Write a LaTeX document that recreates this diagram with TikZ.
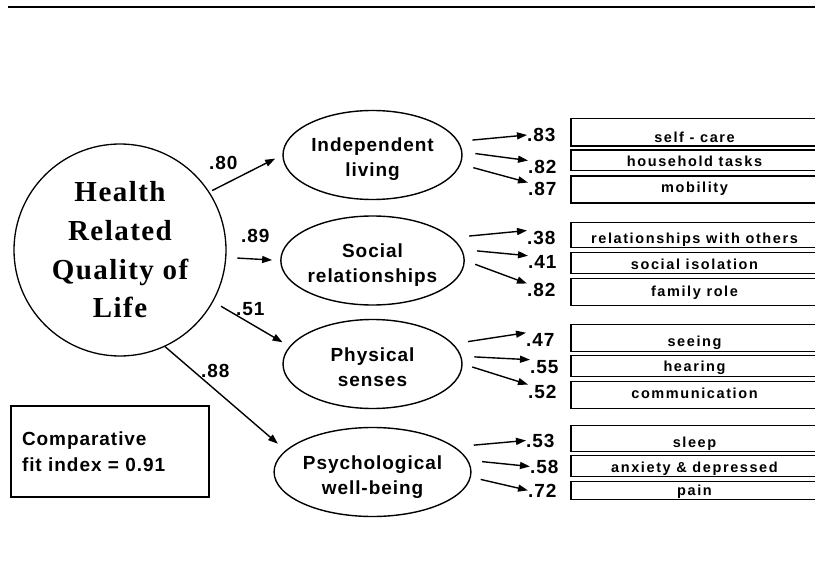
\documentclass[tikz,border=0pt]{standalone}
\usepackage{fontspec}
\setmainfont{Liberation Sans}
\newfontfamily\labelfont[LetterSpace=5]{Liberation Sans}
\newfontfamily\itemfont[LetterSpace=11]{Liberation Sans}
\newfontfamily\titlefont[LetterSpace=5]{Liberation Serif}
\usetikzlibrary{shapes.geometric,arrows.meta}

\begin{document}
\begin{tikzpicture}[x=1pt,y=1pt]
\tikzstyle{every node}+=[inner sep=0pt]
\tikzstyle{factor}=[draw, ellipse, line width=1.4pt, minimum width=179pt, minimum height=89pt, align=center, text height=44pt, text depth=0pt, font=\labelfont\bfseries\fontsize{19}{25}\selectfont]
\tikzstyle{item}=[draw, rectangle, line width=1.3pt, anchor=north, minimum width=247pt, text depth=4pt, font=\itemfont\bfseries\fontsize{14.5}{16}\selectfont]
\tikzstyle{loading}=[anchor=base west, font=\labelfont\bfseries\fontsize{19}{20}\selectfont]
\tikzstyle{link}=[line width=1.4pt, -{Triangle[length=10pt,width=7pt]}]
\useasboundingbox (0,0) rectangle (815,-583);
\draw [line width=2pt] (8,-7.5) -- (815,-7.5);
% latent factors
\node [draw, circle, line width=1.3pt, minimum size=212pt, align=center, font=\titlefont\bfseries\fontsize{29}{38.7}\selectfont] (hrql) at (120,-250) {Health\\Related\\Quality of\\Life};
\node [factor] (indep) at (372.5,-155) {Independent\\living};
\node [factor] (social) at (372.5,-260.5) {Social\\relationships};
\node [factor] (physical) at (372.5,-364) {Physical\\senses};
\node [factor] (psych) at (372.5,-472) {Psychological\\well-being};
% items
\node [item, text height=23.5pt] (selfcare) at (694.5,-118) {self - care};
\node [item, text height=16.5pt] (household) at (694.5,-149.5) {household tasks};
\node [item, text height=16.5pt, text depth=10.5pt] (mobility) at (694.5,-175.5) {mobility};
\node [item, text height=21pt] (others) at (694.5,-222) {relationships with others};
\node [item, text height=17pt] (isolation) at (694.5,-252) {social isolation};
\node [item, text height=18pt, text depth=9pt] (family) at (694.5,-278) {family role};
\node [item, text height=22pt, text depth=5pt] (seeing) at (694.5,-324) {seeing};
\node [item, text height=16pt, text depth=5pt] (hearing) at (694.5,-355) {hearing};
\node [item, text height=17pt, text depth=10pt] (communication) at (694.5,-381) {communication};
\node [item, text height=22pt] (sleep) at (694.5,-425) {sleep};
\node [item, text height=17pt] (anxiety) at (694.5,-455) {anxiety \& depressed};
\node [item, text height=14pt] (pain) at (694.5,-481) {pain};
% loadings
\node [loading] (w80) at (209,-170) {.80};
\node [loading] (w89) at (241,-243) {.89};
\node [loading] (w51) at (236,-316) {.51};
\node [loading] (w88) at (201,-377) {.88};
\node [loading] (l11) at (527,-141.5) {.83};
\node [loading] (l12) at (528,-174) {.82};
\node [loading] (l13) at (528,-196) {.87};
\node [loading] (l21) at (527,-244) {.38};
\node [loading] (l22) at (528,-269) {.41};
\node [loading] (l23) at (527,-297) {.82};
\node [loading] (l31) at (526,-346) {.47};
\node [loading] (l32) at (530,-373) {.55};
\node [loading] (l33) at (528,-398) {.52};
\node [loading] (l41) at (526,-447) {.53};
\node [loading] (l42) at (530,-473) {.58};
\node [loading] (l43) at (528,-497) {.72};
\node [draw, rectangle, line width=1.3pt, minimum width=198pt, minimum height=91pt, text width=176pt, align=left, font=\labelfont\bfseries\fontsize{19}{26}\selectfont] (cfi) at (110,-451.5) {Comparative\\fit index = 0.91};
% paths
\draw [link, shorten <=3pt, shorten >=8pt] (hrql.33) -- (indep.west);
\draw [link, shorten <=11pt, shorten >=8pt] (hrql.-4) -- (social.west);
\draw [link, shorten <=9pt, shorten >=8pt] (hrql.-29) -- (physical.168);
\draw [link, shorten >=10pt] (hrql.-65) -- (psych.166);
\draw [link, shorten <=14pt] (indep.9) -- (l11.west);
\draw [link, shorten <=13pt] (indep.2) -- (l12.north west);
\draw [link, shorten <=13pt] (indep.-6) -- (l13.north west);
\draw [link, shorten <=17pt] (social.16) -- (l21.north west);
\draw [link, shorten <=15pt] (social.7) -- (l22.north west);
\draw [link, shorten <=11pt] (social.east) -- (l23.north west);
\draw [link, shorten <=15pt] (physical.14) -- (l31.north west);
\draw [link, shorten <=13pt] (physical.5) -- (l32.north west);
\draw [link, shorten <=10pt] (physical.east) -- (l33.north west);
\draw [link, shorten <=19pt] (psych.17) -- (l41.west);
\draw [link, shorten <=14pt] (psych.7) -- (l42.west);
\draw [link, shorten <=10pt] (psych.-3) -- (l43.west);
\end{tikzpicture}
\end{document}
